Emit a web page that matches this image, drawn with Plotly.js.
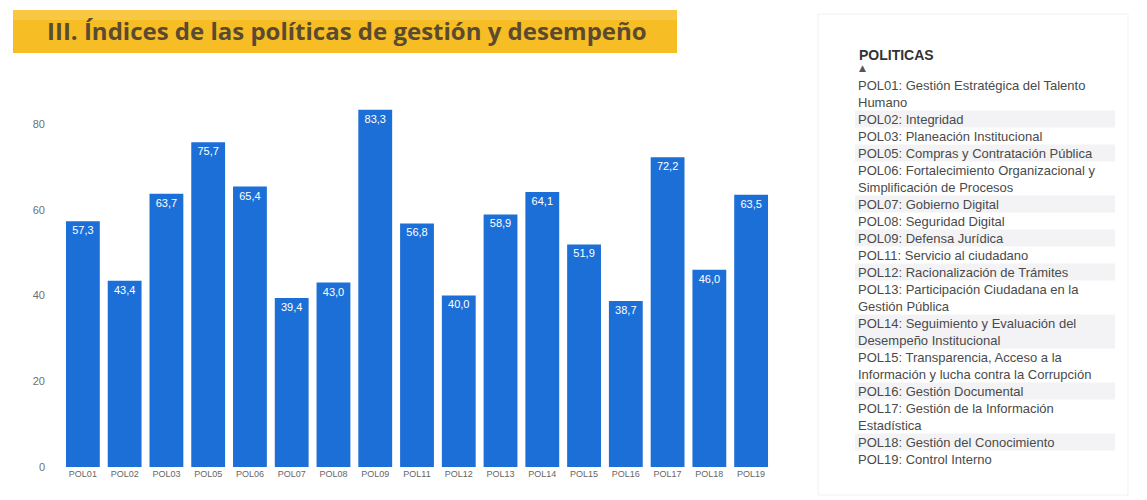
<!DOCTYPE html>
<html>
<head>
<meta charset="utf-8">
<script src="https://cdn.plot.ly/plotly-3.0.1.min.js"></script>
<style>html,body{margin:0;padding:0;background:#fff;}#chart{width:1147px;height:500px;}</style>
</head>
<body>
<div id="chart"></div>
<script>
// ---- data ----
var categories = ["POL01","POL02","POL03","POL05","POL06","POL07","POL08","POL09","POL11","POL12","POL13","POL14","POL15","POL16","POL17","POL18","POL19"];
var indices = [57.3, 43.4, 63.7, 75.7, 65.4, 39.4, 43.0, 83.3, 56.8, 40.0, 58.9, 64.1, 51.9, 38.7, 72.2, 46.0, 63.5];
var yTicks = [0, 20, 40, 60, 80];
var chartTitle = "III. Índices de las políticas de gestión y desempeño";
var legendTitle = "POLITICAS";
var policyNames = [
  "POL01: Gestión Estratégica del Talento<br>Humano",
  "POL02: Integridad",
  "POL03: Planeación Institucional",
  "POL05: Compras y Contratación Pública",
  "POL06: Fortalecimiento Organizacional y<br>Simplificación de Procesos",
  "POL07: Gobierno Digital",
  "POL08: Seguridad Digital",
  "POL09: Defensa Jurídica",
  "POL11: Servicio al ciudadano",
  "POL12: Racionalización de Trámites",
  "POL13: Participación Ciudadana en la<br>Gestión Pública",
  "POL14: Seguimiento y Evaluación del<br>Desempeño Institucional",
  "POL15: Transparencia, Acceso a la<br>Información y lucha contra la Corrupción",
  "POL16: Gestión Documental",
  "POL17: Gestión de la Información<br>Estadística",
  "POL18: Gestión del Conocimiento",
  "POL19: Control Interno"
];

// ---- layout geometry (pixels) ----
var W = 1147, H = 500;
var M = {l: 62, r: 375, t: 81, b: 33};
var PW = W - M.l - M.r, PH = H - M.t - M.b;
function px(x){ return (x - M.l) / PW; }
function py(y){ return (H - M.b - y) / PH; }

var shapes = [
  {type:"rect", xref:"paper", yref:"paper", x0:px(13), x1:px(677), y0:py(53), y1:py(10),
   fillcolor:"#f7bd24", line:{width:0}, layer:"below"},
  {type:"rect", xref:"paper", yref:"paper", x0:px(13), x1:px(677), y0:py(20), y1:py(10),
   fillcolor:"#f9c843", line:{width:0}, layer:"below"},
  {type:"rect", xref:"paper", yref:"paper", x0:px(818), x1:px(1128), y0:py(495), y1:py(14),
   fillcolor:"rgba(0,0,0,0)", line:{width:1, color:"#f1f1f1"}, layer:"below"}
];

var annotations = [
  {xref:"paper", yref:"paper", x:px(857), y:py(55), xanchor:"left", yanchor:"middle",
   text:"<b>" + legendTitle + "</b>", showarrow:false,
   font:{family:"Liberation Sans, Arial, sans-serif", size:14, color:"#333"}},
  {xref:"paper", yref:"paper", x:px(857), y:py(68), xanchor:"left", yanchor:"middle",
   text:"▲", showarrow:false,
   font:{family:"DejaVu Sans, sans-serif", size:9, color:"#555"}}
];

var lineH = 17, rowStart = 76.5, cum = 0;
for (var i = 0; i < policyNames.length; i++) {
  var nLines = policyNames[i].split("<br>").length;
  var rowY = rowStart + cum * lineH;
  if (i % 2 === 1) {
    shapes.push({type:"rect", xref:"paper", yref:"paper", x0:px(855), x1:px(1115),
      y0:py(rowY + nLines * lineH), y1:py(rowY), fillcolor:"#f3f3f6", line:{width:0}, layer:"below"});
  }
  annotations.push({xref:"paper", yref:"paper", x:px(857), y:py(rowY), xanchor:"left", yanchor:"top",
    align:"left", text:policyNames[i], showarrow:false, borderpad:0,
    font:{family:"Liberation Sans, Arial, sans-serif", size:13, color:"#4a4a4a"}});
  cum += nLines;
}

var trace = {
  type:"bar",
  x:categories,
  y:indices,
  marker:{color:"#1d6fd8"},
  text:indices,
  texttemplate:"%{y:.1f}",
  textposition:"inside",
  insidetextanchor:"end",
  constraintext:"none",
  textangle:0,
  textfont:{family:"Liberation Sans, Arial, sans-serif", size:11, color:"#ffffff"},
  hoverinfo:"x+y"
};

var layout = {
  width:W, height:H,
  margin:M,
  paper_bgcolor:"#ffffff",
  plot_bgcolor:"#ffffff",
  separators:",.",
  bargap:0.19,
  showlegend:false,
  title:{text:chartTitle, xref:"container", yref:"container", x:47/W, xanchor:"left",
         y:1 - 32/H, yanchor:"middle",
         font:{family:"Open Sans, sans-serif", size:24, weight:700, color:"#5a4a30"}},
  xaxis:{type:"category", showgrid:false, zeroline:false, showline:false, ticks:"",
         tickfont:{family:"Liberation Sans, Arial, sans-serif", size:9, color:"#666"},
         tickangle:0},
  yaxis:{range:[0,90], tickvals:yTicks, showgrid:false, zeroline:false, showline:false, ticks:"",
         ticklabelstandoff:16,
         tickfont:{family:"Liberation Sans, Arial, sans-serif", size:11, color:"#6f6f6f"}},
  shapes:shapes,
  annotations:annotations
};

Plotly.newPlot("chart", [trace], layout, {displayModeBar:false, staticPlot:true});
</script>
</body>
</html>
